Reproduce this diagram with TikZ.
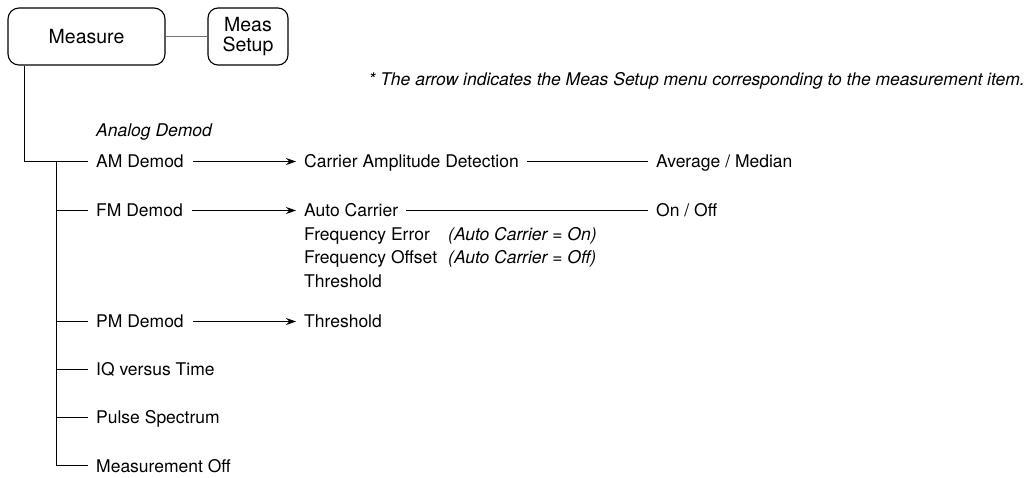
\documentclass[tikz,border=0pt]{standalone}
\usepackage{fontspec}
\setmainfont{TeX Gyre Heros}
\usetikzlibrary{arrows.meta}
\begin{document}
\begin{tikzpicture}[x=1pt,y=-1pt,
  txt/.style={anchor=base west,inner xsep=0pt,inner ysep=0pt,text height=13pt,text depth=0pt,font=\fontsize{17.5}{21}\selectfont},
  itxt/.style={txt,font=\fontsize{17.5}{21}\selectfont\itshape},
  keybox/.style={draw,line width=1.1pt,rounded corners=11pt,font=\fontsize{19.5}{20.5}\selectfont,align=center,inner sep=0pt},
  tree/.style={line width=1pt},
  arr/.style={line width=1pt,-{Stealth[length=10pt,width=7pt]},shorten <=9pt,shorten >=8pt},
  link/.style={line width=1pt,shorten <=8pt,shorten >=8pt}]
\useasboundingbox (0,0) rectangle (1029,478);
% keys
\node[keybox,minimum width=157pt,minimum height=57pt] (meas) at (86.5,36.5) {Measure};
\node[keybox,minimum width=80pt,minimum height=57pt,rounded corners=10pt] (setup) at (248,36.5) {Meas\\Setup};
\draw[line width=1.8pt,black!55] (meas.east) -- (setup.west);
% note
\node[anchor=base east,inner sep=0pt,font=\fontsize{17.5}{21}\selectfont\itshape] (note) at (1025,86) {* The arrow indicates the Meas Setup menu corresponding to the measurement item.};
% left column
\node[itxt] (analog) at (96,137) {Analog Demod};
\node[txt] (am) at (96,168) {AM Demod};
\node[txt] (fm) at (96,217) {FM Demod};
\node[txt] (pm) at (96,328) {PM Demod};
\node[txt] (iq) at (96,376) {IQ versus Time};
\node[txt] (pulse) at (96,424) {Pulse Spectrum};
\node[txt] (off) at (96,472) {Measurement Off};
% middle column
\node[txt] (cad) at (304,168) {Carrier Amplitude Detection};
\node[txt] (ac) at (304,217) {Auto Carrier};
\node[txt] (fe) at (304,241) {Frequency Error};
\node[itxt] (feon) at (448,241) {(Auto Carrier = On)};
\node[txt] (fo) at (304,264) {Frequency Offset};
\node[itxt] (fooff) at (448,264) {(Auto Carrier = Off)};
\node[txt] (th1) at (304,288) {Threshold};
\node[txt] (th2) at (304,328) {Threshold};
% right column
\node[txt] (avg) at (656,168) {Average / Median};
\node[txt] (onoff) at (656,217) {On / Off};
% tree
\coordinate (m0) at (24,65);
\coordinate (j0) at (24,161.5);
\coordinate (t0) at (56,161.5);
\coordinate (t1) at (56,464.5);
\draw[tree] (meas.south -| m0) -- (j0) -- ([xshift=-8pt]am.west);
\draw[tree] (t0) -- (t1);
\foreach \n in {fm,pm,iq,pulse,off}{
  \draw[tree] (t0 |- \n.west) -- ([xshift=-8pt]\n.west);
}
% arrows and links
\draw[arr] (am.east) -- (am.east -| cad.west);
\draw[arr] (fm.east) -- (fm.east -| ac.west);
\draw[arr] (pm.east) -- (pm.east -| th2.west);
\draw[link] (cad.east) -- (cad.east -| avg.west);
\draw[link] (ac.east) -- (ac.east -| onoff.west);
\end{tikzpicture}
\end{document}
